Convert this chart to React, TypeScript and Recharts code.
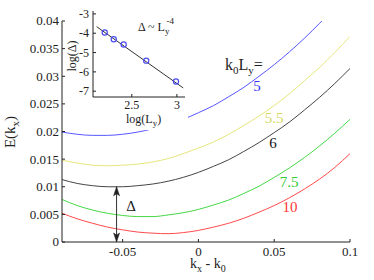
import { LineChart, Line, XAxis, YAxis } from 'recharts'

const serif = 'Liberation Serif'
const ink = '#222'

// main panel: E(kx) against kx - k0 for several k0*Ly
const kx = [-0.09, -0.08, -0.07, -0.06, -0.05, -0.04, -0.03, -0.02, -0.01, 0, 0.01, 0.02, 0.03, 0.04, 0.05, 0.06, 0.07, 0.08, 0.09, 0.1]
const e5 = [0.0199, 0.0195, 0.0193, 0.0193, 0.0195, 0.0199, 0.0205, 0.0213, 0.0222, 0.0234, 0.0247, 0.0263, 0.028, 0.03, 0.0321, 0.0344, 0.0369, 0.0396, 0.0425, 0.0456]
const e55 = [0.0148, 0.0143, 0.0139, 0.0138, 0.0139, 0.0141, 0.0145, 0.0151, 0.016, 0.017, 0.0181, 0.0195, 0.0211, 0.0228, 0.0247, 0.0268, 0.0292, 0.0316, 0.0343, 0.0372]
const e6 = [0.0113, 0.0106, 0.0102, 0.01, 0.01, 0.0102, 0.0105, 0.011, 0.0117, 0.0126, 0.0137, 0.0149, 0.0164, 0.018, 0.0198, 0.0217, 0.0239, 0.0262, 0.0287, 0.0314]
const e75 = [0.0077, 0.0066, 0.0058, 0.0052, 0.0048, 0.0046, 0.0046, 0.0049, 0.0053, 0.0059, 0.0067, 0.0076, 0.0088, 0.0101, 0.0117, 0.0134, 0.0153, 0.0174, 0.0197, 0.0222]
const e10 = [0.0052, 0.0042, 0.0034, 0.0027, 0.0022, 0.0018, 0.0016, 0.0015, 0.0017, 0.0021, 0.0027, 0.0034, 0.0043, 0.0054, 0.0066, 0.008, 0.0096, 0.0114, 0.0135, 0.016]

const kTicks = [-0.05, 0, 0.05, 0.1]
const kTickLabels = ['-0.05', '0', '0.05', '0.1']
const eTicks = [0, 0.005, 0.01, 0.015, 0.02, 0.025, 0.03, 0.035, 0.04]
const eTickLabels = ['0', '0.005', '0.01', '0.015', '0.02', '0.025', '0.03', '0.035', '0.04']

// gap arrow
const gapX = [-0.054, -0.054]
const gapY = [0, 0.01]

// inset: log(gap) vs log(Ly)
const logLy = [2.2, 2.3, 2.41, 2.66, 2.99]
const logGap = [-3.96, -4.31, -4.58, -5.42, -6.5]
const fitX = [2.11, 3.07]
const fitY = [-3.66, -6.83]
const lTicks = [2.5, 3]
const lTickLabels = ['2.5', '3']
const gTicks = [-7, -6, -5, -4, -3]
const gTickLabels = ['-7', '-6', '-5', '-4', '-3']

const rows = kx.map((x, i) => ({ x, e5: e5[i], e55: e55[i], e6: e6[i], e75: e75[i], e10: e10[i] }))
const arrow = gapX.map((x, i) => ({ x, y: gapY[i] }))
const pts = logLy.map((x, i) => ({ x, y: logGap[i] }))
const fit = fitX.map((x, i) => ({ x, y: fitY[i] }))

const label = (ticks: number[], labels: string[], v: number) => labels[ticks.indexOf(v)] ?? ''

const bottomTick = (ticks: number[], labels: string[], fs: number, gap: number) => (p: any) => (
  <g>
    <line x1={p.x} x2={p.x} y1={p.y} y2={p.y - 3} stroke={ink} />
    <text x={p.x} y={p.y + gap} textAnchor="middle" fontSize={fs} fontFamily={serif} fill={ink}>
      {label(ticks, labels, p.payload.value)}
    </text>
  </g>
)
const leftTick = (ticks: number[], labels: string[], fs: number, gap: number) => (p: any) => (
  <g>
    <line x1={p.x} x2={p.x + 3} y1={p.y} y2={p.y} stroke={ink} />
    <text x={p.x - gap} y={p.y + fs * 0.34} textAnchor="end" fontSize={fs} fontFamily={serif} fill={ink}>
      {label(ticks, labels, p.payload.value)}
    </text>
  </g>
)
const topTick = (p: any) => <line x1={p.x} x2={p.x} y1={p.y} y2={p.y + 3} stroke={ink} />
const rightTick = (p: any) => <line x1={p.x} x2={p.x - 3} y1={p.y} y2={p.y} stroke={ink} />

const arrowHead = (p: any) => {
  const { cx, cy, index } = p
  const d = index === 0
    ? `M${cx},${cy} L${cx - 3},${cy - 9} L${cx},${cy - 7} L${cx + 3},${cy - 9} Z`
    : `M${cx},${cy} L${cx - 3},${cy + 9} L${cx},${cy + 7} L${cx + 3},${cy + 9} Z`
  return <path key={`ah${index}`} d={d} fill={ink} stroke={ink} strokeWidth={0.5} />
}

function Inset() {
  return (
    <div style={{ position: 'absolute', left: 66, top: 0, width: 122, height: 130, background: '#fff' }}>
      <LineChart width={122} height={130} margin={{ top: 11, right: 3, bottom: 0, left: 0 }}>
        <XAxis xAxisId="b" type="number" dataKey="x" domain={[2.07, 3.09]} ticks={lTicks} interval={0}
          allowDataOverflow height={33} tickSize={0} tickMargin={0} tickLine={false} axisLine={{ stroke: ink }}
          tick={bottomTick(lTicks, lTickLabels, 12, 12)} />
        <XAxis xAxisId="t" orientation="top" type="number" dataKey="x" domain={[2.07, 3.09]} ticks={lTicks} interval={0}
          allowDataOverflow height={0} tickSize={0} tickMargin={0} tickLine={false} axisLine={{ stroke: ink }} tick={topTick} />
        <YAxis yAxisId="l" type="number" dataKey="y" domain={[-7.3, -2.85]} ticks={gTicks} interval={0}
          allowDataOverflow width={27} tickSize={0} tickMargin={0} tickLine={false} axisLine={{ stroke: ink }}
          tick={leftTick(gTicks, gTickLabels, 12, 4)} />
        <YAxis yAxisId="r" orientation="right" type="number" dataKey="y" domain={[-7.3, -2.85]} ticks={gTicks} interval={0}
          allowDataOverflow width={0} tickSize={0} tickMargin={0} tickLine={false} axisLine={{ stroke: ink }} tick={rightTick} />
        <Line xAxisId="b" yAxisId="l" data={fit} dataKey="y" type="linear" stroke="#333" strokeWidth={1}
          dot={false} activeDot={false} isAnimationActive={false} />
        <Line xAxisId="b" yAxisId="l" data={pts} dataKey="y" type="linear" stroke="none"
          dot={{ r: 2.6, stroke: '#4b4bf0', fill: 'none', strokeWidth: 1.2 }} activeDot={false} isAnimationActive={false} />
      </LineChart>
      <svg width={122} height={130} style={{ position: 'absolute', left: 0, top: 0, pointerEvents: 'none', overflow: 'visible' }}
        fontFamily={serif} fill={ink}>
        <text x={10} y={56} fontSize={12} textAnchor="middle" transform="rotate(-90 10 56)">log(Δ)</text>
        <text x={60} y={123} fontSize={12}>log(L<tspan dy={3} fontSize={9}>y</tspan><tspan dy={-3}>)</tspan></text>
        <text x={72} y={31} fontSize={12}>Δ ~ L<tspan dy={3} fontSize={9}>y</tspan>
          <tspan dx={-3} dy={-10} fontSize={9}>-4</tspan></text>
      </svg>
    </div>
  )
}

export default function App() {
  return (
    <div style={{ position: 'absolute', left: 0, top: 0, width: 374, height: 280, background: '#fff' }}>
      <LineChart width={374} height={280} data={rows} margin={{ top: 21, right: 24, bottom: 0, left: 0 }}>
        <XAxis xAxisId="b" type="number" dataKey="x" domain={[-0.09, 0.1]} ticks={kTicks} interval={0}
          allowDataOverflow height={38} tickSize={0} tickMargin={0} tickLine={false} axisLine={{ stroke: ink }}
          tick={bottomTick(kTicks, kTickLabels, 13, 14)} />
        <XAxis xAxisId="t" orientation="top" type="number" dataKey="x" domain={[-0.09, 0.1]} ticks={kTicks} interval={0}
          allowDataOverflow height={0} tickSize={0} tickMargin={0} tickLine={false} axisLine={{ stroke: ink }} tick={topTick} />
        <YAxis yAxisId="l" type="number" domain={[0, 0.04]} ticks={eTicks} interval={0}
          allowDataOverflow width={62} tickSize={0} tickMargin={0} tickLine={false} axisLine={{ stroke: ink }}
          tick={leftTick(eTicks, eTickLabels, 13, 3)} />
        <YAxis yAxisId="r" orientation="right" type="number" domain={[0, 0.04]} ticks={eTicks} interval={0}
          allowDataOverflow width={0} tickSize={0} tickMargin={0} tickLine={false} axisLine={{ stroke: ink }} tick={rightTick} />
        <Line xAxisId="b" yAxisId="l" dataKey="e5" type="monotone" stroke="#5656ff" strokeWidth={1} dot={false} activeDot={false} isAnimationActive={false} />
        <Line xAxisId="b" yAxisId="l" dataKey="e55" type="monotone" stroke="#e6e67c" strokeWidth={1} dot={false} activeDot={false} isAnimationActive={false} />
        <Line xAxisId="b" yAxisId="l" dataKey="e6" type="monotone" stroke="#454545" strokeWidth={1} dot={false} activeDot={false} isAnimationActive={false} />
        <Line xAxisId="b" yAxisId="l" dataKey="e75" type="monotone" stroke="#44d844" strokeWidth={1} dot={false} activeDot={false} isAnimationActive={false} />
        <Line xAxisId="b" yAxisId="l" dataKey="e10" type="monotone" stroke="#ff4a4a" strokeWidth={1} dot={false} activeDot={false} isAnimationActive={false} />
        <Line xAxisId="b" yAxisId="l" data={arrow} dataKey="y" type="linear" stroke="#333" strokeWidth={1}
          dot={arrowHead} activeDot={false} isAnimationActive={false} />
      </LineChart>
      <svg width={374} height={280} style={{ position: 'absolute', left: 0, top: 0, pointerEvents: 'none' }}
        fontFamily={serif} fill={ink}>
        <text x={15} y={132} fontSize={15} textAnchor="middle" transform="rotate(-90 15 132)">
          E(k<tspan dy={4} fontSize={11}>x</tspan><tspan dy={-4}>)</tspan>
        </text>
        <text x={190} y={268} fontSize={14}>
          k<tspan dy={4} fontSize={10}>x</tspan><tspan dy={-4}> - k</tspan><tspan dy={4} fontSize={10}>0</tspan>
        </text>
        <text x={225} y={70} fontSize={16}>
          k<tspan dy={4} fontSize={11}>0</tspan><tspan dy={-4}>L</tspan><tspan dy={4} fontSize={11}>y</tspan><tspan dy={-4}>=</tspan>
        </text>
        <text x={257} y={91} fontSize={15} textAnchor="middle" fill="#3535ff">5</text>
        <text x={274} y={123} fontSize={15} textAnchor="middle" fill="#d8d860">5.5</text>
        <text x={273} y={148} fontSize={15} textAnchor="middle" fill="#111">6</text>
        <text x={289} y={187} fontSize={15} textAnchor="middle" fill="#2ecc2e">7.5</text>
        <text x={290} y={212} fontSize={15} textAnchor="middle" fill="#ff3535">10</text>
        <text x={131} y={211} fontSize={15} textAnchor="middle">Δ</text>
      </svg>
      <Inset />
    </div>
  )
}
